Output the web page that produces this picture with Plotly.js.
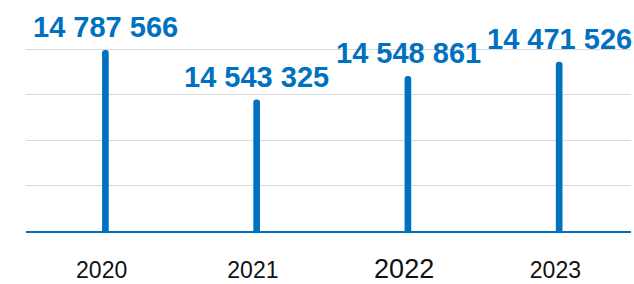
<!DOCTYPE html>
<html>
<head>
<meta charset="utf-8">
<script src="https://cdn.plot.ly/plotly-3.0.1.min.js"></script>
<style>html,body{margin:0;padding:0;background:#fff;}#chart{width:634px;height:284px;}</style>
</head>
<body>
<div id="chart"></div>
<script>
// Categories (years)
const years = ['2020', '2021', '2022', '2023'];
// Displayed values (labels above bars)
const values = [14787566, 14543325, 14548861, 14471526];
// Bar heights as drawn in the picture, in gridline units (axis has no tick labels)
const barHeights = [3.98, 2.89, 3.41, 3.72];
// Tick labels (2022 is drawn larger in the reference)
const tickLabels = ['2020', '2021', '<span style="font-size:27px">2022</span>', '2023'];

const blue = '#0070c0';
const idx = years.map((_, i) => i);

function fmt(v) {
  return String(v).replace(/\B(?=(\d{3})+(?!\d))/g, ' ');
}

const trace = {
  type: 'bar',
  x: idx,
  y: barHeights,
  width: 0.044,
  offset: 0.003,
  marker: { color: blue, cornerradius: 3.5, line: { width: 0 } },
  hoverinfo: 'skip'
};

const annotations = idx.map((i) => ({
  x: i,
  y: barHeights[i],
  xref: 'x',
  yref: 'y',
  text: '<b>' + fmt(values[i]) + '</b>',
  showarrow: false,
  xanchor: 'center',
  yanchor: 'bottom',
  xshift: 4,
  yshift: 5,
  font: { family: 'Liberation Sans, Arial, sans-serif', size: 29, color: blue }
}));

const layout = {
  width: 634,
  height: 284,
  margin: { l: 26, r: 3, t: 40, b: 53 },
  paper_bgcolor: '#ffffff',
  plot_bgcolor: '#ffffff',
  showlegend: false,
  xaxis: {
    type: 'linear',
    range: [-0.5, 3.5],
    tickmode: 'array',
    tickvals: idx,
    ticktext: tickLabels,
    showgrid: false,
    zeroline: false,
    showline: true,
    linecolor: blue,
    linewidth: 2,
    ticks: '',
    tickangle: 0,
    ticklabelstandoff: 17,
    tickfont: { family: 'Liberation Sans, Arial, sans-serif', size: 23, color: '#111111' }
  },
  yaxis: {
    range: [0, 4.2],
    tickmode: 'linear',
    dtick: 1,
    tick0: 0,
    showgrid: true,
    gridcolor: '#d9d9d9',
    gridwidth: 1,
    zeroline: false,
    showline: false,
    showticklabels: false,
    ticks: ''
  },
  annotations: annotations
};

Plotly.newPlot('chart', [trace], layout, { staticPlot: true, displayModeBar: false });
</script>
</body>
</html>
